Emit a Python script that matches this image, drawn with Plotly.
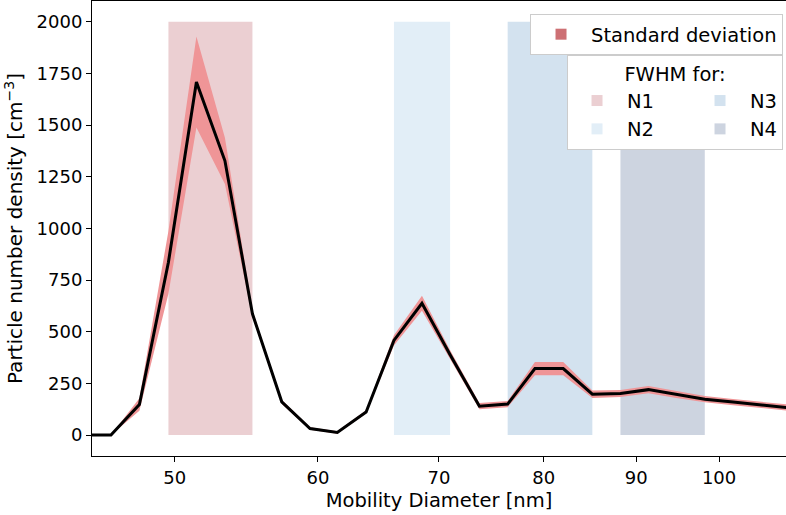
import numpy as np
import plotly.graph_objects as go

# Mobility diameter bins [nm] and measured number density [cm^-3]
diameter_nm = [44.5, 46.1, 47.8, 49.6, 51.4, 53.3, 55.2, 57.3, 59.4, 61.5, 63.8,
               66.1, 68.5, 71.0, 73.7, 76.4, 79.1, 82.0, 85.1, 88.2, 91.4, 94.7,
               98.2, 101.8, 105.5, 109.4]
mean_density = [0, 0, 148, 836, 1708, 1327, 587, 161, 32, 13, 112,
                458, 638, 389, 140, 150, 322, 322, 198, 201, 220, 196,
                174, 160, 146, 132]
std_density = [0, 0, 30, 152, 220, 112, 16, 10, 6, 6, 8,
               25, 36, 22, 15, 15, 32, 32, 18, 17, 18, 16,
               15, 15, 15, 15]

# FWHM ranges for the four modes
fwhm_labels = ["N1", "N2", "N3", "N4"]
fwhm_low = [49.6, 66.1, 76.4, 88.2]
fwhm_high = [55.2, 71.0, 85.1, 98.2]
fwhm_top = 2000
fwhm_colors = ["#ebcfd2", "#e2eef7", "#d3e2ef", "#cdd4e0"]

band_color = "#ef9597"
std_legend_color = "#cd7074"
font_family = "DejaVu Sans"

mean = np.array(mean_density, dtype=float)
std = np.array(std_density, dtype=float)

fig = go.Figure()

# FWHM rectangles
for lab, lo, hi, col in zip(fwhm_labels, fwhm_low, fwhm_high, fwhm_colors):
    fig.add_trace(go.Scatter(
        x=[lo, hi, hi, lo, lo], y=[0, 0, fwhm_top, fwhm_top, 0],
        mode="lines", fill="toself", fillcolor=col, line=dict(width=0),
        showlegend=False, hoverinfo="skip"))

# Standard deviation band
fig.add_trace(go.Scatter(x=diameter_nm, y=mean - std, mode="lines",
                         line=dict(width=0, color=band_color), showlegend=False,
                         hoverinfo="skip"))
fig.add_trace(go.Scatter(x=diameter_nm, y=mean + std, mode="lines",
                         line=dict(width=0, color=band_color), fill="tonexty",
                         fillcolor=band_color, showlegend=False, hoverinfo="skip"))

# Mean line
fig.add_trace(go.Scatter(x=diameter_nm, y=mean, mode="lines",
                         line=dict(color="black", width=3), showlegend=False))

# Legend entries
fig.add_trace(go.Scatter(x=[None], y=[None], mode="markers", name="Standard deviation",
                         marker=dict(symbol="square", size=11, color=std_legend_color),
                         legend="legend"))
# columns: (N1, N2) then (N3, N4)
groups = ["c1", "c1", "c2", "c2"]
pad = ["\u00a0" * 5, "\u00a0" * 5, "", ""]
for i, (lab, col) in enumerate(zip(fwhm_labels, fwhm_colors)):
    fig.add_trace(go.Scatter(x=[None], y=[None], mode="markers", name=lab + pad[i],
                             marker=dict(symbol="square", size=11, color=col),
                             legend="legend2", legendgroup=groups[i]))

fig.update_layout(
    width=786, height=515,
    margin=dict(l=92, r=0, t=1, b=59),
    paper_bgcolor="white", plot_bgcolor="white",
    font=dict(family=font_family, size=18, color="black"),
    legend=dict(x=0.9957, y=0.9714, xanchor="right", yanchor="top",
                bgcolor="white", bordercolor="#cccccc", borderwidth=1,
                font=dict(size=19.5), itemwidth=50),
    legend2=dict(x=0.9957, y=0.8813, xanchor="right", yanchor="top",
                 orientation="h", bgcolor="white", bordercolor="#cccccc",
                 borderwidth=1, font=dict(size=19.5), tracegroupgap=2,
                 itemwidth=50,
                 title=dict(text="FWHM for:", side="top center", font=dict(size=19.5))),
)

fig.update_xaxes(
    type="log", range=[np.log10(45), np.log10(108.9)],
    tickvals=[50, 60, 70, 80, 90, 100], ticktext=["50", "60", "70", "80", "90", "100"],
    ticks="outside", ticklen=5, tickwidth=1.1, tickcolor="black",
    showline=True, linecolor="black", linewidth=1.1, mirror=True,
    showgrid=False, zeroline=False,
    title=dict(text="Mobility Diameter [nm]", standoff=6,
               font=dict(size=19.5, family=font_family)),
    tickfont=dict(size=18),
)
fig.update_yaxes(
    range=[-101, 2100],
    tickvals=[0, 250, 500, 750, 1000, 1250, 1500, 1750, 2000],
    ticks="outside", ticklen=5, tickwidth=1.1, tickcolor="black",
    showline=True, linecolor="black", linewidth=1.1, mirror=True,
    showgrid=False, zeroline=False,
    title=dict(text="Particle number density [cm<sup>−3</sup>]", standoff=8,
               font=dict(size=20, family=font_family)),
    tickfont=dict(size=18),
)

fig.write_html("out.html")
